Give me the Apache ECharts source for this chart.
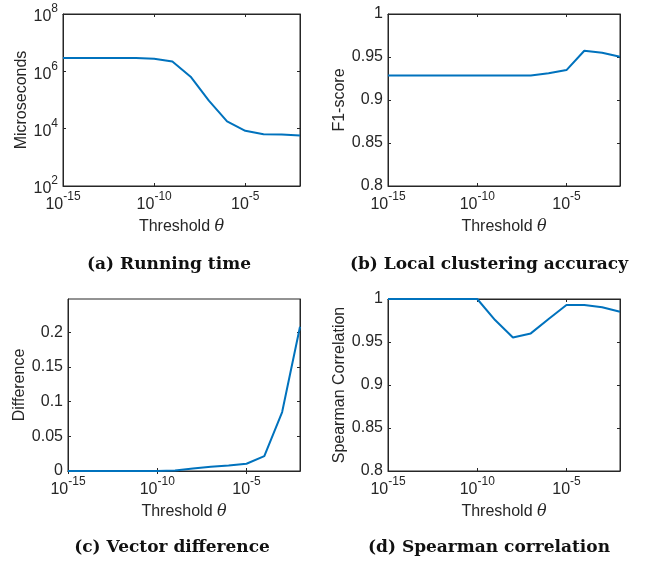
<!DOCTYPE html>
<html>
<head>
<meta charset="utf-8">
<script src="https://cdn.jsdelivr.net/npm/echarts@6/dist/echarts.min.js"></script>
<style>
  html, body { margin: 0; padding: 0; background: #fff; }
  #chart { width: 646px; height: 563px; }
</style>
</head>
<body>
<div id="chart"></div>
<script>
// threshold values (one point per decade)
const thresholds = [1e-15, 1e-14, 1e-13, 1e-12, 1e-11, 1e-10, 1e-9, 1e-8, 1e-7, 1e-6, 1e-5, 1e-4, 1e-3, 1e-2];
const runningTime = [2.9e6, 2.9e6, 2.9e6, 2.9e6, 2.9e6, 2.75e6, 2.2e6, 6.5e5, 9.5e4, 1.8e4, 8.4e3, 6.4e3, 6.3e3, 5.8e3];
const f1Score = [0.9286, 0.9286, 0.9286, 0.9286, 0.9286, 0.9286, 0.9286, 0.9286, 0.9286, 0.931, 0.9348, 0.9573, 0.955, 0.9503];
const vectorDiff = [0, 0, 0, 0, 0, 0, 0.0008, 0.0035, 0.006, 0.008, 0.0105, 0.0214, 0.085, 0.208];
const spearman = [1, 1, 1, 1, 1, 1, 0.9755, 0.9553, 0.960, 0.9767, 0.993, 0.993, 0.9903, 0.9852];

const xTicks = [1e-15, 1e-10, 1e-5];
const timeTicks = [1e2, 1e4, 1e6, 1e8];
const diffTicks = [0, 0.05, 0.1, 0.15, 0.2];

const captions = ['(a) Running time', '(b) Local clustering accuracy', '(c) Vector difference', '(d) Spearman correlation'];

const axisColor = '#262626';
const lineColor = '#0072BD';
const sans = '"Liberation Sans", Arial, sans-serif';

const grids = [
  {left: 63, top: 14, width: 237, height: 172},
  {left: 388, top: 14, width: 232, height: 172},
  {left: 68, top: 299, width: 232, height: 172},
  {left: 388, top: 299, width: 232, height: 172}
];

const powRich = {
  b: {fontSize: 16, fontFamily: sans, color: axisColor, padding: [6, 0, 0, 0], verticalAlign: 'bottom'},
  s: {fontSize: 12, fontFamily: sans, color: axisColor, verticalAlign: 'top'}
};
const pow10 = v => '{b|10}{s|' + Math.round(Math.log10(v)) + '}';

const lineStyle = {color: axisColor, width: 1};

function xAxes(i) {
  const base = {
    gridIndex: i, type: 'log', logBase: 10, min: 1e-15, max: 1e-2,
    axisLine: {show: true, lineStyle},
    axisTick: {show: true, inside: true, length: 3, lineStyle, customValues: xTicks},
    splitLine: {show: false}, minorTick: {show: false}
  };
  return [
    Object.assign({}, base, {
      position: 'bottom',
      axisLabel: {customValues: xTicks, formatter: pow10, rich: powRich, margin: 5},
      name: '{n|Threshold }{t|θ}', nameLocation: 'middle', nameGap: 33,
      nameTextStyle: {rich: {
        n: {fontSize: 16, fontFamily: sans, color: axisColor},
        t: {fontSize: 16, fontFamily: '"DejaVu Serif", serif', fontStyle: 'italic', color: axisColor}
      }}
    }),
    Object.assign({}, base, {position: 'top', axisLabel: {show: false}})
  ];
}

const yDefs = [
  {type: 'log', logBase: 10, min: 1e2, max: 1e8, name: 'Microseconds', nameGap: 31,
   ticks: timeTicks, formatter: pow10},
  {type: 'value', min: 0.8, max: 1, interval: 0.05, name: 'F1-score', nameGap: 34},
  {type: 'value', min: 0, max: 0.248, name: 'Difference', nameGap: 36, ticks: diffTicks},
  {type: 'value', min: 0.8, max: 1, interval: 0.05, name: 'Spearman Correlation', nameGap: 36}
];

function yAxes(i) {
  const d = yDefs[i];
  const base = {
    gridIndex: i, type: d.type, min: d.min, max: d.max,
    axisLine: {show: true, lineStyle},
    axisTick: {show: true, inside: true, length: 3, lineStyle},
    splitLine: {show: false}, minorTick: {show: false}
  };
  if (d.type === 'log') base.logBase = 10;
  if (d.interval) base.interval = d.interval;
  if (d.ticks) base.axisTick.customValues = d.ticks;
  const label = {color: axisColor, fontSize: 16, fontFamily: sans, margin: 5};
  if (d.ticks) label.customValues = d.ticks;
  if (d.formatter) { label.formatter = d.formatter; label.rich = powRich; }
  return [
    Object.assign({}, base, {
      position: 'left', axisLabel: label,
      name: d.name, nameLocation: 'middle', nameGap: d.nameGap,
      nameTextStyle: {fontSize: 16, fontFamily: sans, color: axisColor}
    }),
    Object.assign({}, base, {position: 'right', axisLabel: {show: false}})
  ];
}

const seriesData = [runningTime, f1Score, vectorDiff, spearman];

const option = {
  backgroundColor: '#fff',
  animation: false,
  grid: grids.map(g => Object.assign({show: true, borderColor: axisColor, borderWidth: 1}, g)),
  xAxis: [0, 1, 2, 3].flatMap(xAxes),
  yAxis: [0, 1, 2, 3].flatMap(yAxes),
  series: seriesData.map((vals, i) => ({
    type: 'line',
    xAxisIndex: i * 2,
    yAxisIndex: i * 2,
    data: thresholds.map((t, k) => [t, vals[k]]),
    showSymbol: false,
    lineStyle: {color: lineColor, width: 2},
    itemStyle: {color: lineColor}
  })),
  graphic: [
    {x: 169, y: 265}, {x: 489, y: 265}, {x: 172, y: 548}, {x: 489, y: 548}
  ].map((p, i) => ({
    type: 'text', x: p.x, y: p.y,
    style: {
      text: captions[i], fill: '#111',
      font: 'bold 17px "DejaVu Serif", serif',
      align: 'center', verticalAlign: 'middle'
    }
  }))
};

const chart = echarts.init(document.getElementById('chart'));
chart.setOption(option);
window.addEventListener('resize', () => chart.resize());
</script>
</body>
</html>
